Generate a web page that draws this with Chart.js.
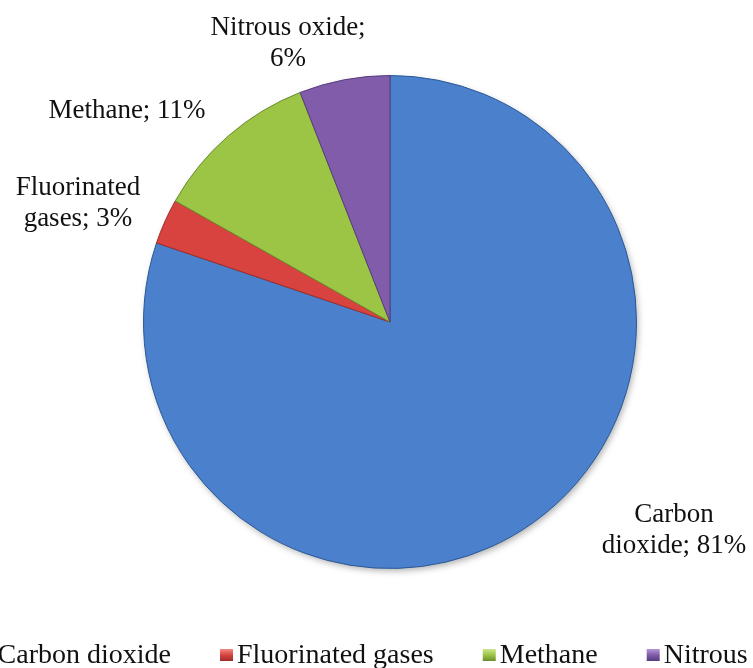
<!DOCTYPE html>
<html>
<head>
<meta charset="utf-8">
<script src="https://cdn.jsdelivr.net/npm/chart.js@4.4.1/dist/chart.umd.min.js"></script>
<style>
  html,body{margin:0;padding:0;background:#fff;overflow:hidden;}
  #wrap{position:relative;width:753px;height:668px;}
</style>
</head>
<body>
<div id="wrap"><canvas id="ghgPie" width="753" height="668"></canvas></div>
<script>
// greenhouse gas share pie
const gases = ['Carbon dioxide', 'Fluorinated gases', 'Methane', 'Nitrous oxide'];
const shares = [81, 3, 11, 6];
const labelLines = [['Carbon', 'dioxide; 81%'], ['Fluorinated', 'gases; 3%'], ['Methane; 11%'], ['Nitrous oxide;', '6%']];
const baseCols = ['#4A80CC', '#D8433F', '#9CC445', '#805CAA'];
const hiCols = ['#86AFE8', '#F08A85', '#CBE88C', '#B396D6'];
const darkCols = ['#2C5796', '#9E2D2A', '#6A8D2D', '#573C7C'];

// label anchor (text centre x, first baseline y) relative to pie centre
const labelOffs = [[284, 200], [-312, -127], [-263, -204], [-102, -287]];

const SERIF = '"Liberation Serif","Times New Roman",serif';

function sliceFill(ctx){
  const chart = ctx.chart;
  const i = ctx.dataIndex;
  const el = chart.getDatasetMeta(0).data[i];
  if(!chart.chartArea || !el || !el.outerRadius) return baseCols[i];
  const g = chart.ctx.createRadialGradient(el.x, el.y, 0, el.x, el.y, el.outerRadius);
  g.addColorStop(0, baseCols[i]);
  g.addColorStop(0.89, baseCols[i]);
  g.addColorStop(0.945, hiCols[i]);
  g.addColorStop(0.975, baseCols[i]);
  g.addColorStop(1, darkCols[i]);
  return g;
}

const shadowPlugin = {
  id: 'pieShadow',
  beforeDatasetsDraw(chart){
    const el = chart.getDatasetMeta(0).data[0];
    if(!el) return;
    const c = chart.ctx;
    c.save();
    c.shadowColor = 'rgba(0,0,0,0.35)';
    c.shadowBlur = 7;
    c.shadowOffsetX = 2;
    c.shadowOffsetY = 3;
    c.fillStyle = '#fff';
    c.beginPath();
    c.arc(el.x, el.y, el.outerRadius - 1, 0, Math.PI * 2);
    c.fill();
    c.restore();
  }
};

const labelPlugin = {
  id: 'sliceLabels',
  afterDatasetsDraw(chart){
    const el = chart.getDatasetMeta(0).data[0];
    if(!el) return;
    const c = chart.ctx;
    c.save();
    c.font = '27px ' + SERIF;
    c.fillStyle = '#111';
    c.textAlign = 'center';
    c.textBaseline = 'alphabetic';
    labelLines.forEach((lines, i) => {
      const [dx, dy] = labelOffs[i];
      lines.forEach((t, k) => c.fillText(t, el.x + dx, el.y + dy + k * 31));
    });
    c.restore();
  }
};

const legendPlugin = {
  id: 'bottomLegend',
  afterDraw(chart){
    const c = chart.ctx;
    c.save();
    c.font = '28px ' + SERIF;
    c.textBaseline = 'alphabetic';
    c.textAlign = 'left';
    const box = 13, boxGap = 4, itemGap = 49;
    const widths = gases.map(g => c.measureText(g).width);
    // second box sits at x=220 in the reference, the rest follow from it
    let x = 220 - itemGap - widths[0] - boxGap - box;
    const baseY = 663;
    gases.forEach((g, i) => {
      const gr = c.createLinearGradient(0, 649, 0, 661);
      gr.addColorStop(0, hiCols[i]);
      gr.addColorStop(0.5, baseCols[i]);
      gr.addColorStop(1, darkCols[i]);
      c.fillStyle = gr;
      c.fillRect(x, 649, box, 12);
      c.fillStyle = '#111';
      c.fillText(g, x + box + boxGap, baseY);
      x += box + boxGap + widths[i] + itemGap;
    });
    c.restore();
  }
};

window.addEventListener('load', () => {
  const ctx = document.getElementById('ghgPie').getContext('2d');
  new Chart(ctx, {
    type: 'pie',
    data: {
      labels: gases,
      datasets: [{
        data: shares,
        backgroundColor: sliceFill,
        borderColor: darkCols,
        borderWidth: 1
      }]
    },
    options: {
      responsive: false,
      animation: false,
      rotation: 0,
      layout: { padding: { left: 143, right: 116, top: 75, bottom: 99 } },
      plugins: { legend: { display: false }, tooltip: { enabled: false } }
    },
    plugins: [shadowPlugin, labelPlugin, legendPlugin]
  });
});
</script>
</body>
</html>
